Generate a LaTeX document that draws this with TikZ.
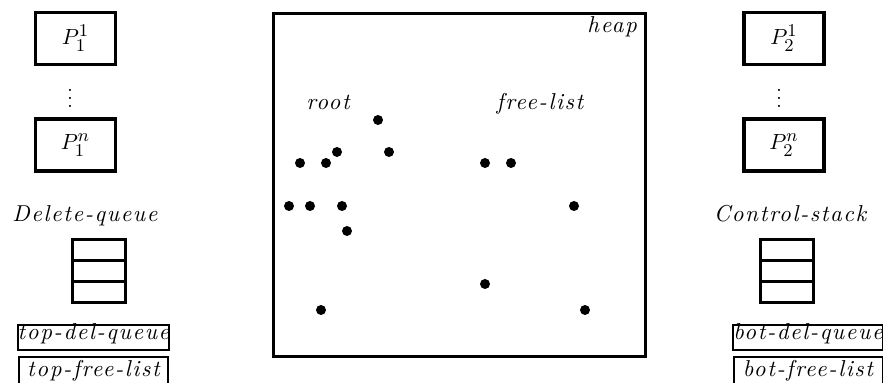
\documentclass[tikz,border=0pt]{standalone}
\usepackage{amsmath}
\usepackage{fontspec}
\usetikzlibrary{positioning}
\newfontfamily\lblfont{lmroman10-italic}[Extension=.otf, LetterSpace=7]
\DeclareMathSizes{11}{11}{8.8}{6.5}

\begin{document}
\begin{tikzpicture}[
      x=0.5pt, y=0.5pt,
      font=\fontsize{11}{13}\selectfont,
      proc/.style={draw, line width=1.6pt, minimum width=40pt, minimum height=26pt, inner sep=0pt, outer sep=0pt},
      cell/.style={draw, line width=1.6pt, minimum width=26.4pt, minimum height=10.45pt, inner sep=0pt, outer sep=0pt},
      reg/.style={draw, line width=1pt, minimum width=74.5pt, inner sep=0pt, text height=7.5pt, text depth=5pt, font=\fontsize{11.5}{13}\lblfont},
      lbl/.style={font=\fontsize{11.5}{13}\lblfont},
      obj/.style={circle, fill, inner sep=0pt, minimum size=5pt}
    ]
    \useasboundingbox (0,0) rectangle (883,383);

    % heap with its objects
    \node[draw, line width=1.6pt, minimum width=185.9pt, minimum height=171.4pt, inner sep=0pt] (heap) at (459.5,198) {};
    \node[lbl, anchor=base east] (heaplbl) at (644,350) {heap};
    \node[lbl, anchor=base] (root) at (328,273) {root};
    \node[lbl, anchor=base] (freelist) at (540,273) {free-list};
    \foreach \x/\y [count=\i] in {378/263, 337/231, 389/231, 300/220, 326/220, 485/220, 511/220,
        289/177, 310/177, 342/177, 574/177, 347/152, 485/99, 321/73, 585/73}
      \node[obj] (obj\i) at (\x,\y) {};

    % first processor side
    \node[proc] (p11) at (75.5,344.5) {$P_1^1$};
    \node[proc] (p1n) at (75.5,238) {$P_1^n$};
    \node (dots1) at (70,291) {$\vdots$};
    \node[lbl, anchor=base] (dqlbl) at (85,161) {Delete-queue};
    \node[cell] (dq1) at (99,133) {};
    \node[cell, below=0pt of dq1] (dq2) {};
    \node[cell, below=0pt of dq2] (dq3) {};
    \node[reg, anchor=base] (tdq) at (93.5,43) {top-del-queue};
    \node[reg, anchor=base, text height=10pt, text depth=8pt] (tfl) at (93.5,6) {top-free-list};

    % second processor side
    \node[proc] (p21) at (784,344.5) {$P_2^1$};
    \node[proc] (p2n) at (784,238) {$P_2^n$};
    \node (dots2) at (779,291) {$\vdots$};
    \node[lbl, anchor=base] (cslbl) at (790,161) {Control-stack};
    \node[cell] (cs1) at (787,133) {};
    \node[cell, below=0pt of cs1] (cs2) {};
    \node[cell, below=0pt of cs2] (cs3) {};
    \node[reg, anchor=base] (bdq) at (808,43) {bot-del-queue};
    \node[reg, anchor=base, text height=10pt, text depth=8pt] (bfl) at (808,6) {bot-free-list};
  \end{tikzpicture}
\end{document}
